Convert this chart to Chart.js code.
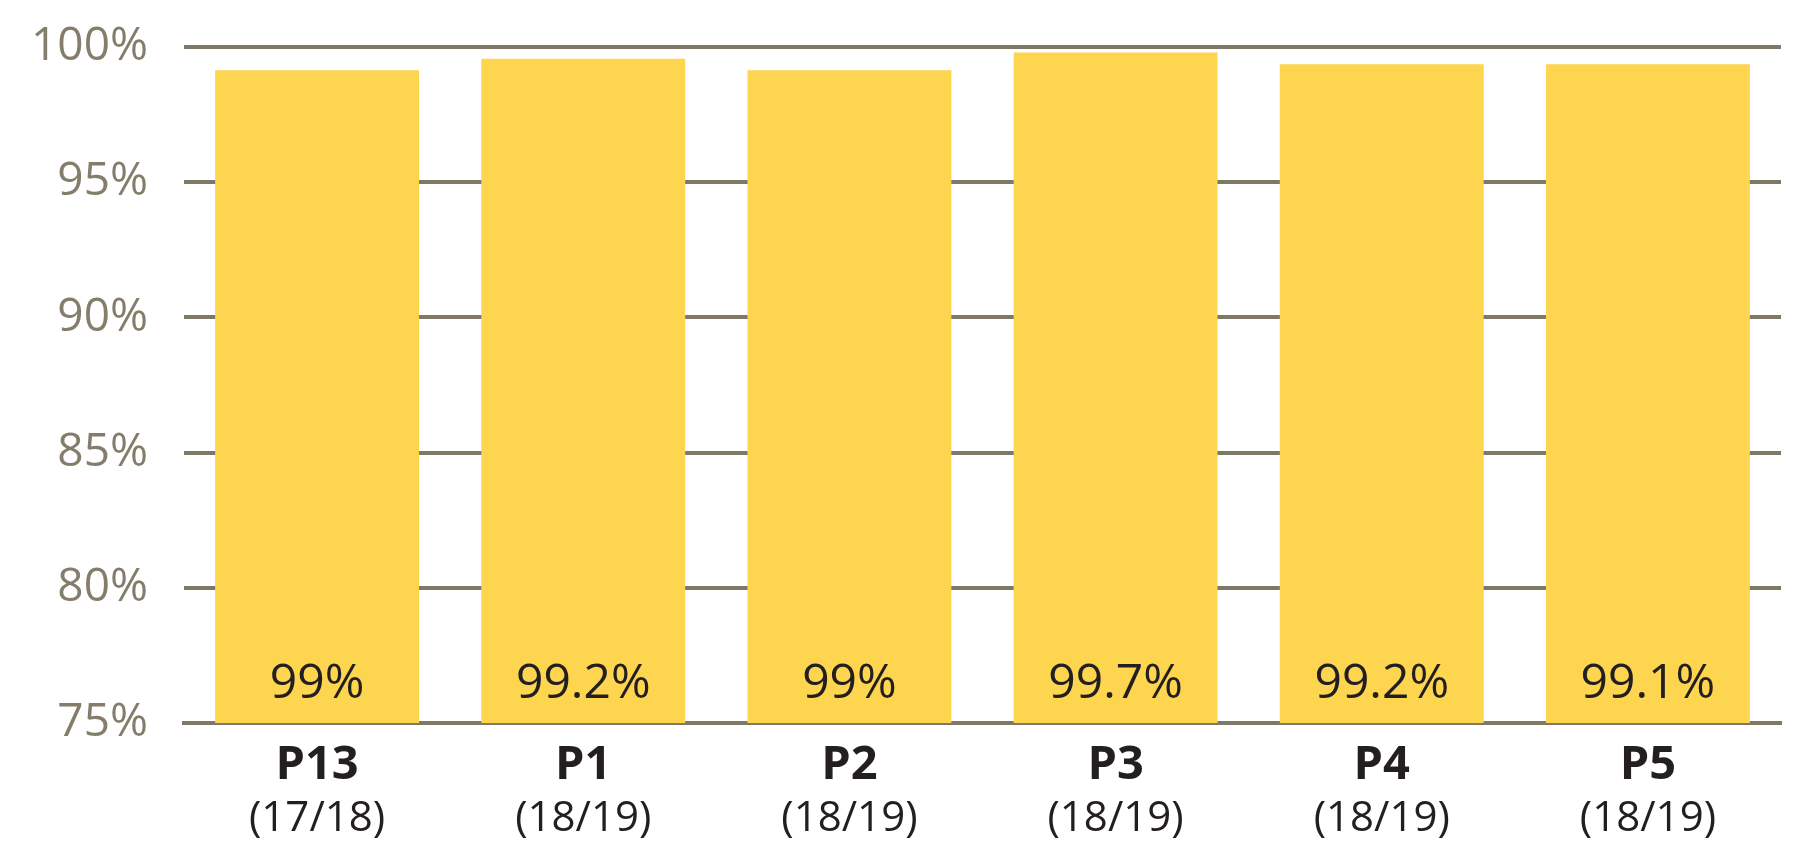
<!DOCTYPE html>
<html>
<head>
<meta charset="utf-8">
<title>Percentage by period</title>
<script src="https://cdn.jsdelivr.net/npm/chart.js@4/dist/chart.umd.min.js"></script>
<style>
    html, body { margin: 0; padding: 0; background: #ffffff; }
    #wrap { width: 1806px; height: 841px; }
</style>
</head>
<body>
<div id="wrap"><canvas id="chart" width="1806" height="841"></canvas></div>
<script>
// period names and the year each belongs to
const periods = ['P13', 'P1', 'P2', 'P3', 'P4', 'P5'];
const years = ['(17/18)', '(18/19)', '(18/19)', '(18/19)', '(18/19)', '(18/19)'];

// bar heights as drawn, and the figures printed inside the bars
const barValues = [99.14, 99.57, 99.14, 99.8, 99.36, 99.36];
const printedValues = ['99%', '99.2%', '99%', '99.7%', '99.2%', '99.1%'];

const yMin = 75;
const yMax = 100;
const yStep = 5;

const gridColor = '#7f7866';
const tickColor = '#857d6b';
const textColor = '#231f20';
const barColor = '#fdd54e';
const fontFamily = '"Open Sans", "Noto Sans", sans-serif';

// draws the value inside each bar and the two-line category labels
const labelPlugin = {
    id: 'labelPlugin',
    afterDatasetsDraw(chart) {
        const ctx = chart.ctx;
        const meta = chart.getDatasetMeta(0);
        const xScale = chart.scales.x;
        const yScale = chart.scales.y;
        const base = yScale.getPixelForValue(yMin);

        ctx.save();
        ctx.textAlign = 'center';
        ctx.textBaseline = 'alphabetic';
        ctx.fillStyle = textColor;

        meta.data.forEach((bar, i) => {
            ctx.font = '48px ' + fontFamily;
            ctx.fillText(printedValues[i], bar.x, base - 25);

            const x = xScale.getPixelForTick(i);
            ctx.font = 'bold 47px ' + fontFamily;
            ctx.fillText(periods[i], x, base + 56);
            ctx.font = '42px ' + fontFamily;
            ctx.fillText(years[i], x, base + 108);
        });
        ctx.restore();
    }
};

new Chart(document.getElementById('chart'), {
    type: 'bar',
    data: {
        labels: periods,
        datasets: [{
            data: barValues,
            backgroundColor: barColor,
            borderWidth: 0,
            barPercentage: 0.766,
            categoryPercentage: 1
        }]
    },
    options: {
        responsive: false,
        animation: false,
        layout: { padding: { top: 47, right: 25, left: 0, bottom: 0 } },
        plugins: {
            legend: { display: false },
            tooltip: { enabled: false }
        },
        scales: {
            x: {
                grid: { display: false },
                border: { display: true, color: gridColor, width: 4 },
                ticks: { display: false },
                afterFit(scale) { scale.height = 118; }
            },
            y: {
                min: yMin,
                max: yMax,
                grid: { color: gridColor, lineWidth: 4, drawTicks: false },
                border: { display: false },
                ticks: {
                    stepSize: yStep,
                    padding: 36,
                    color: tickColor,
                    font: { family: fontFamily, size: 46 },
                    callback: (value) => value + '%'
                },
                afterFit(scale) {
                    scale.width = 184;
                    // let the top label overhang instead of pushing the plot down
                    scale.paddingTop = 0;
                    scale.paddingBottom = 0;
                }
            }
        }
    },
    plugins: [labelPlugin]
});
</script>
</body>
</html>
